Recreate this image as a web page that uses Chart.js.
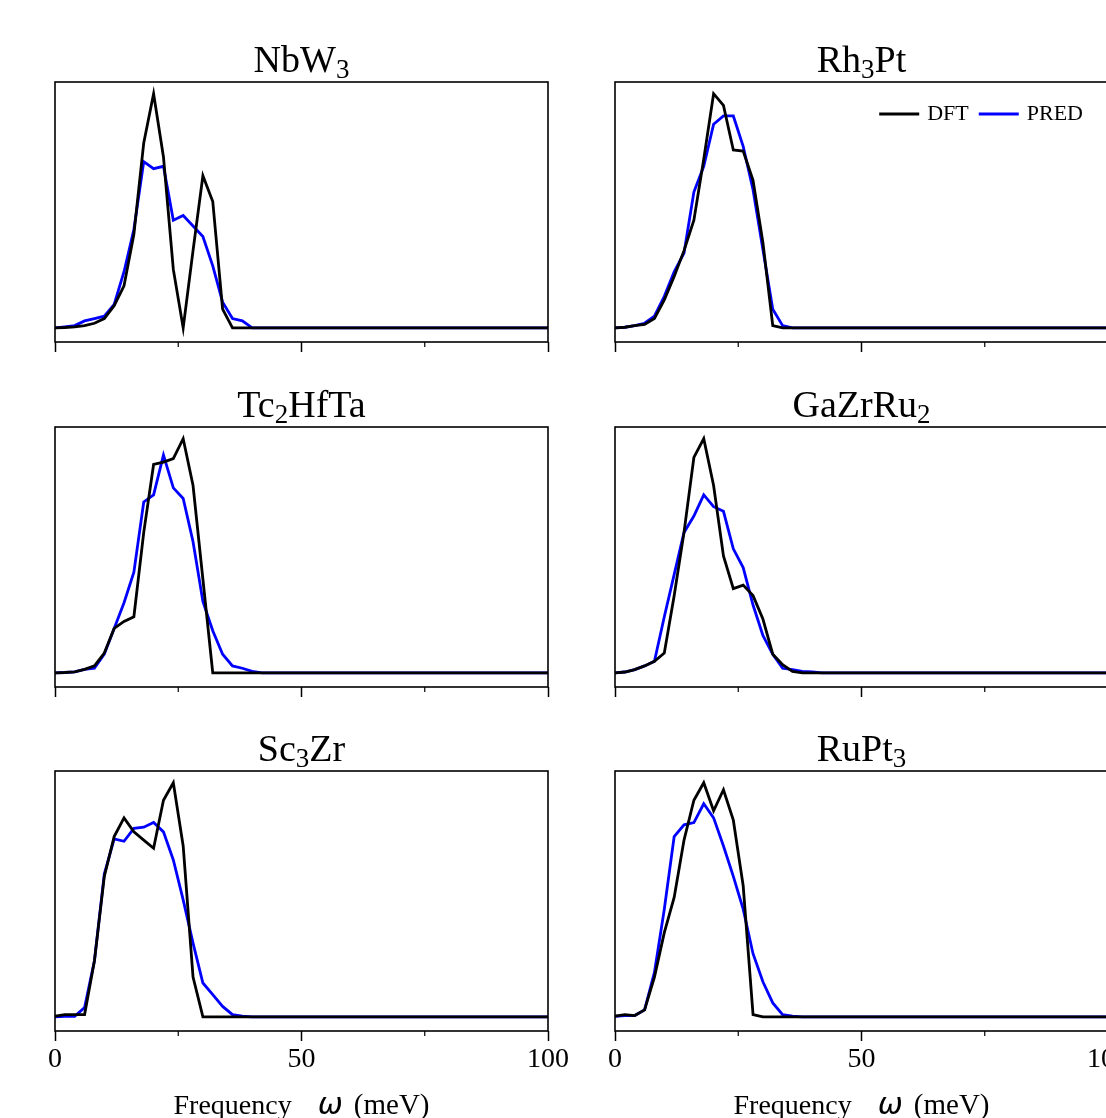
<!DOCTYPE html>
<html>
<head>
<meta charset="utf-8">
<script src="https://cdn.jsdelivr.net/npm/chart.js@4.4.0/dist/chart.umd.min.js"></script>
<style>
  html, body { margin: 0; padding: 0; background: #fff; overflow: hidden; }
  #fig { position: relative; width: 1106px; height: 1118px; overflow: hidden; background: #fff; }
  #fig canvas { position: absolute; }
</style>
</head>
<body>
<div id="fig"></div>
<script>
// phonon DOS, frequency grid in meV
const freq = [0, 2, 4, 6, 8, 10, 12, 14, 16, 18,
  20, 22, 24, 26, 28, 30, 32, 34, 36, 38,
  40, 42, 44, 46, 48, 50, 52, 54, 56, 58,
  60, 62, 64, 66, 68, 70, 72, 74, 76, 78,
  80, 82, 84, 86, 88, 90, 92, 94, 96, 98,
  100];

const dftNbW3 = [0, 0.002, 0.005, 0.01, 0.02, 0.04, 0.095, 0.18, 0.40, 0.79,
  1.0, 0.73, 0.25, 0.0, 0.33, 0.65, 0.54, 0.08, 0, 0,
  0, 0, 0, 0, 0, 0, 0, 0, 0, 0,
  0, 0, 0, 0, 0, 0, 0, 0, 0, 0,
  0, 0, 0, 0, 0, 0, 0, 0, 0, 0,
  0];
const predNbW3 = [0, 0.005, 0.01, 0.03, 0.04, 0.05, 0.10, 0.24, 0.42, 0.71,
  0.68, 0.69, 0.46, 0.48, 0.435, 0.39, 0.265, 0.11, 0.04, 0.03,
  0, 0, 0, 0, 0, 0, 0, 0, 0, 0,
  0, 0, 0, 0, 0, 0, 0, 0, 0, 0,
  0, 0, 0, 0, 0, 0, 0, 0, 0, 0,
  0];

const dftRh3Pt = [0, 0.003, 0.01, 0.015, 0.04, 0.12, 0.22, 0.33, 0.46, 0.72,
  1.0, 0.95, 0.76, 0.755, 0.63, 0.365, 0.01, 0, 0, 0,
  0, 0, 0, 0, 0, 0, 0, 0, 0, 0,
  0, 0, 0, 0, 0, 0, 0, 0, 0, 0,
  0, 0, 0, 0, 0, 0, 0, 0, 0, 0,
  0];
const predRh3Pt = [0, 0.003, 0.01, 0.02, 0.05, 0.135, 0.24, 0.32, 0.58, 0.69,
  0.87, 0.905, 0.905, 0.775, 0.59, 0.335, 0.08, 0.01, 0, 0,
  0, 0, 0, 0, 0, 0, 0, 0, 0, 0,
  0, 0, 0, 0, 0, 0, 0, 0, 0, 0,
  0, 0, 0, 0, 0, 0, 0, 0, 0, 0,
  0];

const dftTc2HfTa = [0, 0.002, 0.005, 0.015, 0.03, 0.085, 0.19, 0.22, 0.24, 0.60,
  0.89, 0.90, 0.915, 1.0, 0.80, 0.40, 0, 0, 0, 0,
  0, 0, 0, 0, 0, 0, 0, 0, 0, 0,
  0, 0, 0, 0, 0, 0, 0, 0, 0, 0,
  0, 0, 0, 0, 0, 0, 0, 0, 0, 0,
  0];
const predTc2HfTa = [0, 0.002, 0.005, 0.015, 0.02, 0.08, 0.19, 0.30, 0.43, 0.73,
  0.76, 0.93, 0.79, 0.745, 0.56, 0.305, 0.18, 0.08, 0.03, 0.02,
  0.007, 0, 0, 0, 0, 0, 0, 0, 0, 0,
  0, 0, 0, 0, 0, 0, 0, 0, 0, 0,
  0, 0, 0, 0, 0, 0, 0, 0, 0, 0,
  0];

const dftGaZrRu2 = [0, 0.004, 0.014, 0.03, 0.05, 0.085, 0.33, 0.60, 0.92, 1.0,
  0.80, 0.50, 0.36, 0.375, 0.33, 0.23, 0.08, 0.035, 0.007, 0,
  0, 0, 0, 0, 0, 0, 0, 0, 0, 0,
  0, 0, 0, 0, 0, 0, 0, 0, 0, 0,
  0, 0, 0, 0, 0, 0, 0, 0, 0, 0,
  0];
const predGaZrRu2 = [0, 0.004, 0.014, 0.03, 0.05, 0.24, 0.42, 0.60, 0.67, 0.76,
  0.71, 0.69, 0.53, 0.45, 0.29, 0.16, 0.08, 0.02, 0.014, 0.007,
  0.004, 0, 0, 0, 0, 0, 0, 0, 0, 0,
  0, 0, 0, 0, 0, 0, 0, 0, 0, 0,
  0, 0, 0, 0, 0, 0, 0, 0, 0, 0,
  0];

const dftSc3Zr = [0.003, 0.01, 0.01, 0.01, 0.24, 0.60, 0.77, 0.85, 0.79, 0.755,
  0.72, 0.925, 1.0, 0.73, 0.17, 0, 0, 0, 0, 0,
  0, 0, 0, 0, 0, 0, 0, 0, 0, 0,
  0, 0, 0, 0, 0, 0, 0, 0, 0, 0,
  0, 0, 0, 0, 0, 0, 0, 0, 0, 0,
  0];
const predSc3Zr = [0, 0.003, 0.003, 0.04, 0.24, 0.61, 0.76, 0.75, 0.805, 0.81,
  0.83, 0.79, 0.67, 0.50, 0.315, 0.145, 0.095, 0.045, 0.01, 0.003,
  0, 0, 0, 0, 0, 0, 0, 0, 0, 0,
  0, 0, 0, 0, 0, 0, 0, 0, 0, 0,
  0, 0, 0, 0, 0, 0, 0, 0, 0, 0,
  0];

const dftRuPt3 = [0.003, 0.01, 0.006, 0.03, 0.17, 0.36, 0.51, 0.755, 0.925, 1.0,
  0.88, 0.97, 0.84, 0.56, 0.01, 0, 0, 0, 0, 0,
  0, 0, 0, 0, 0, 0, 0, 0, 0, 0,
  0, 0, 0, 0, 0, 0, 0, 0, 0, 0,
  0, 0, 0, 0, 0, 0, 0, 0, 0, 0,
  0];
const predRuPt3 = [0.003, 0.006, 0.006, 0.03, 0.19, 0.46, 0.77, 0.82, 0.83, 0.91,
  0.85, 0.73, 0.60, 0.46, 0.27, 0.15, 0.06, 0.01, 0.003, 0,
  0, 0, 0, 0, 0, 0, 0, 0, 0, 0,
  0, 0, 0, 0, 0, 0, 0, 0, 0, 0,
  0, 0, 0, 0, 0, 0, 0, 0, 0, 0,
  0];

// title parts: even index = normal text, odd index = subscript
const titles = [
  ['NbW', '3'], ['Rh', '3', 'Pt'],
  ['Tc', '2', 'HfTa'], ['GaZrRu', '2'],
  ['Sc', '3', 'Zr'], ['RuPt', '3']
];
const dftSeries = [dftNbW3, dftRh3Pt, dftTc2HfTa, dftGaZrRu2, dftSc3Zr, dftRuPt3];
const predSeries = [predNbW3, predRh3Pt, predTc2HfTa, predGaZrRu2, predSc3Zr, predRuPt3];
const seriesNames = ['DFT', 'PRED'];
const xTicksMajor = [0, 50, 100];
const xTicksMinor = [25, 75];
const xLabel = ['Frequency', 'ω', '(meV)'];

const SERIF = '"Liberation Serif", "Times New Roman", serif';

// frame, minor ticks, title, legend and x label
const decor = {
  id: 'decor',
  afterDraw(chart, args, o) {
    const { ctx, chartArea: a } = chart;
    const x = chart.scales.x;
    ctx.save();
    ctx.strokeStyle = '#000';
    ctx.lineWidth = 1.6;
    ctx.strokeRect(a.left, a.top, a.right - a.left, a.bottom - a.top);

    ctx.lineWidth = 1.2;
    xTicksMinor.forEach(v => {
      const px = x.getPixelForValue(v);
      ctx.beginPath();
      ctx.moveTo(px, a.bottom);
      ctx.lineTo(px, a.bottom + 5);
      ctx.stroke();
    });

    // title with subscripts
    ctx.fillStyle = '#000';
    ctx.textBaseline = 'alphabetic';
    const big = 38, small = 27;
    const parts = o.title.map((t, i) => ({ t, font: (i % 2 ? small : big) + 'px ' + SERIF, dy: i % 2 ? 6 : 0 }));
    let total = 0;
    parts.forEach(p => { ctx.font = p.font; p.w = ctx.measureText(p.t).width; total += p.w; });
    let cx = (a.left + a.right) / 2 - total / 2;
    parts.forEach(p => {
      ctx.font = p.font;
      ctx.fillText(p.t, cx, a.top - 10 + p.dy);
      cx += p.w;
    });

    if (o.legend) {
      ctx.font = '22px ' + SERIF;
      ctx.textBaseline = 'middle';
      const ly = a.top + 32;
      let rx = 1083 - chart.canvas.offsetLeft;
      const items = chart.data.datasets.slice().reverse();
      items.forEach(ds => {
        const tw = ctx.measureText(ds.label).width;
        ctx.fillText(ds.label, rx - tw, ly);
        rx -= tw + 8;
        ctx.strokeStyle = ds.borderColor;
        ctx.lineWidth = 3;
        ctx.beginPath();
        ctx.moveTo(rx - 40, ly);
        ctx.lineTo(rx, ly);
        ctx.stroke();
        rx -= 40 + 10;
      });
    }

    if (o.xlabel) {
      const segs = [
        { t: xLabel[0], font: '28px ' + SERIF, gap: 26 },
        { t: xLabel[1], font: 'italic 30px "DejaVu Sans"', gap: 11 },
        { t: xLabel[2], font: '29px ' + SERIF, gap: 0 }
      ];
      ctx.textBaseline = 'alphabetic';
      let w = 0;
      segs.forEach(s => { ctx.font = s.font; s.w = ctx.measureText(s.t).width; w += s.w + s.gap; });
      let sx = (a.left + a.right) / 2 - w / 2;
      if (o.labelCenter) sx = o.labelCenter - w / 2;
      segs.forEach(s => {
        ctx.font = s.font;
        ctx.fillText(s.t, sx, a.bottom + 83);
        sx += s.w + s.gap;
      });
    }
    ctx.restore();
  }
};

Chart.register(decor);

const fig = document.getElementById('fig');
const frameTops = [82, 427, 771];

titles.forEach((title, i) => {
  const row = Math.floor(i / 2), col = i % 2;
  const bottomRow = row === 2;
  const canvas = document.createElement('canvas');
  const W = col === 0 ? 580 : 560;
  const H = 400;
  canvas.width = W;
  canvas.height = H;
  canvas.style.left = (col === 0 ? 0 : 580) + 'px';
  canvas.style.top = (frameTops[row] - 50) + 'px';
  canvas.style.width = W + 'px';
  canvas.style.height = H + 'px';
  fig.appendChild(canvas);

  const mk = (vals) => freq.map((f, k) => ({ x: f, y: vals[k] }));

  new Chart(canvas, {
    type: 'line',
    data: {
      datasets: [
        { label: seriesNames[0], data: mk(dftSeries[i]), borderColor: '#000000', borderWidth: 2.8, pointRadius: 0, tension: 0, fill: false },
        { label: seriesNames[1], data: mk(predSeries[i]), borderColor: '#0000ff', borderWidth: 2.8, pointRadius: 0, tension: 0, fill: false }
      ]
    },
    options: {
      responsive: false,
      animation: false,
      devicePixelRatio: 1,
      layout: { padding: { top: 50, bottom: 50, left: col === 0 ? 55 : 35, right: col === 0 ? 32 : 32 } },
      scales: {
        x: {
          type: 'linear', min: 0, max: 100,
          afterFit: s => { s.height = 40; },
          border: { display: false },
          grid: { display: true, drawOnChartArea: false, drawTicks: true, tickLength: 10, tickWidth: 1.5, tickColor: '#000' },
          ticks: {
            stepSize: 50, autoSkip: false, maxRotation: 0, padding: 2, color: '#000',
            font: { family: SERIF, size: 28 },
            callback: v => (bottomRow && xTicksMajor.includes(v)) ? String(v) : ''
          }
        },
        y: { display: false, min: -0.06, max: 1.05 }
      },
      plugins: {
        legend: { display: false },
        tooltip: { enabled: false },
        decor: { title, legend: i === 1, xlabel: bottomRow }
      }
    }
  });
});
</script>
</body>
</html>
